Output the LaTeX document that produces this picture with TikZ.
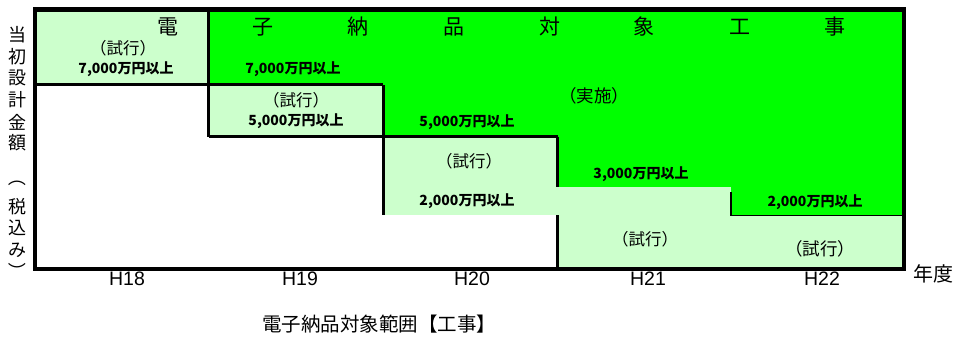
\documentclass[tikz,border=0pt]{standalone}
\usepackage{fontspec}
\setmainfont{Noto Sans CJK JP}
\newfontfamily\lat{Liberation Sans}
\definecolor{vg}{HTML}{00FF00}
\definecolor{lg}{HTML}{CCFFCC}
\tikzset{
  ttl/.style={font=\fontsize{21}{21}\selectfont, inner sep=0},
  trial/.style={font=\fontsize{16.5}{16.5}\selectfont, inner sep=0},
  trialbig/.style={font=\fontsize{17.5}{17.5}\selectfont, inner sep=0},
  amt/.style={font=\bfseries\fontsize{14}{14}\selectfont, inner sep=0},
  yr/.style={font=\lat\fontsize{19.5}{19.5}\selectfont, inner sep=0, anchor=base},
  vt/.style={font=\fontsize{18}{18}\selectfont, inner sep=0},
  capt/.style={font=\fontsize{19.5}{19.5}\selectfont, inner sep=0},
  bline/.style={line width=3pt},
  tline/.style={line width=1.5pt},
  frame/.style={line width=4.5pt},
}
\begin{document}
\begin{tikzpicture}[x=1pt,y=-1pt]
\useasboundingbox (0,0) rectangle (958,341);
% fills
\fill[vg] (35,9.5) rectangle (904,269);
\fill[white] (35,84.5) rectangle (383,269);
\fill[white] (383,215) rectangle (557.5,269);
\fill[lg] (35,9.5) rectangle (208.5,84.5);
\fill[lg] (208.5,84.5) rectangle (383,136.5);
\fill[lg] (383,136.5) rectangle (557.5,215);
\fill[lg] (557.5,187) rectangle (731,269);
\fill[lg] (731,215) rectangle (904,269);
% title
\node[ttl] (t1) at (168,27) {電};
\node[ttl] (t2) at (263,27) {子};
\node[ttl] (t3) at (358,27) {納};
\node[ttl] (t4) at (454,27) {品};
\node[ttl] (t5) at (550,27) {対};
\node[ttl] (t6) at (644,27) {象};
\node[ttl] (t7) at (740,27) {工};
\node[ttl] (t8) at (835,27) {事};
% cell texts
\node[trial] (s18) at (123,48) {（試行）};
\node[amt] (a18) at (126,69) {7,000万円以上};
\node[amt] (a19a) at (293,69) {7,000万円以上};
\node[trial] (s19) at (296,100) {（試行）};
\node[amt] (a19b) at (296,121) {5,000万円以上};
\node[trialbig] (jisshi) at (594,96) {（実施）};
\node[amt] (a20a) at (467,122) {5,000万円以上};
\node[trial] (s20) at (469,161) {（試行）};
\node[amt] (a20b) at (467,201) {2,000万円以上};
\node[amt] (a21) at (641,174) {3,000万円以上};
\node[amt] (a22) at (815,202) {2,000万円以上};
\node[trial] (s21) at (645,239) {（試行）};
\node[trialbig] (s22) at (820,249) {（試行）};
% year labels
\node[yr] (h18) at (127,285) {H18};
\node[yr] (h19) at (300,285) {H19};
\node[yr] (h20) at (472,285) {H20};
\node[yr] (h21) at (648,285) {H21};
\node[yr] (h22) at (822,285) {H22};
\node[font=\fontsize{20}{20}\selectfont, inner sep=0] (nendo) at (933,274) {年度};
% vertical axis label
\node[vt] (v1) at (17.5,35) {当};
\node[vt] (v2) at (17.5,57) {初};
\node[vt] (v3) at (17.5,78) {設};
\node[vt] (v4) at (17.5,100) {計};
\node[vt] (v5) at (17.5,122) {金};
\node[vt] (v6) at (17.5,143) {額};
\node[vt, rotate=-90] (v7) at (17.5,177) {（};
\node[vt] (v8) at (17.5,207) {税};
\node[vt] (v9) at (17.5,228) {込};
\node[vt] (v10) at (17.5,250) {み};
\node[vt, rotate=-90] (v11) at (17.5,271) {）};
% caption
\node[capt] (cap) at (379,324) {電子納品対象範囲【工事】};
% inner lines
\draw[bline] (208.5,9.5) -- (208.5,136.5);
\draw[bline] (35,84.5) -- (383,84.5);
\draw[bline] (383,84.5) -- (383,215);
\draw[bline] (208.5,136.5) -- (557.5,136.5);
\draw[bline] (557.5,136.5) -- (557.5,187);
\draw[bline] (557.5,215) -- (557.5,269);
\draw[tline] (731,192) -- (731,216);
\draw[tline] (731,215.5) -- (904,215.5);
% frame
\draw[frame] (35,9.5) rectangle (904,269);
\end{tikzpicture}
\end{document}
